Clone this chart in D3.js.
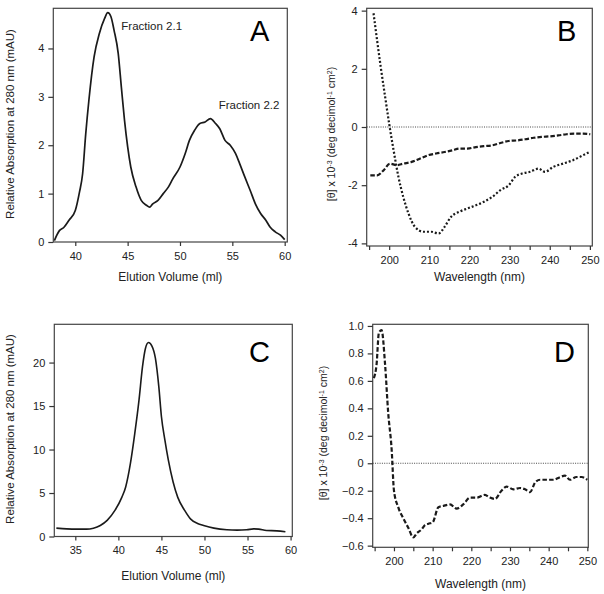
<!DOCTYPE html>
<html><head><meta charset="utf-8">
<script src="https://cdn.jsdelivr.net/npm/d3@7"></script>
<style>
body{margin:0;background:#fff;}
svg{display:block;font-family:"Liberation Sans",Arial,sans-serif;}
.axis path,.axis line{stroke:#333;stroke-width:1.2;}
.axis text{fill:#222;font-size:11px;font-family:"Liberation Sans",Arial,sans-serif;}
</style></head>
<body><svg id="c" width="604" height="594"></svg>
<script>
// Panel A: elution profile (ml, mAU)
const aVol = [38.0,38.5,38.9,39.4,40.0,40.4,40.7,41.0,41.3,41.8,42.3,42.8,43.1,43.4,43.7,44.1,44.4,44.7,45.0,45.3,45.8,46.3,46.8,47.1,47.4,47.9,48.4,48.9,49.3,50.0,50.5,50.9,51.4,51.9,52.4,52.9,53.4,53.8,54.3,54.8,55.3,55.7,56.2,56.7,57.2,57.7,58.2,58.6,59.1,59.6,60.0];
const aAbs = [0.03,0.24,0.30,0.45,0.65,1.03,1.41,2.24,2.93,3.83,4.31,4.62,4.74,4.66,4.38,3.90,3.20,2.52,1.97,1.55,1.14,0.86,0.76,0.72,0.79,0.86,1.00,1.14,1.30,1.55,1.83,2.10,2.31,2.45,2.48,2.55,2.45,2.34,2.10,2.00,1.83,1.62,1.34,1.07,0.79,0.59,0.45,0.31,0.21,0.14,0.05];
const aXTicks = [40,45,50,55,60];
const aYTicks = [0,1,2,3,4];
const aNotes = [{t:"Fraction 2.1",x:47.3,y:4.38},{t:"Fraction 2.2",x:56.6,y:2.75}];

// Panel B: CD spectra
const bWave1 = [196.1,197.0,197.9,199.0,200.0,201.1,202.3,203.5,204.8,206.4,208.5,210.5,212.3,213.8,215.4,217.5,219.5,221.6,223.6,225.7,227.7,229.8,231.4,233.1,235.1,237.2,238.8,240.9,243.3,245.8,248.3,249.9];
const bTheta1 = [3.91,2.97,2.06,1.03,0.11,-0.80,-1.71,-2.40,-2.97,-3.43,-3.60,-3.60,-3.66,-3.43,-3.09,-2.91,-2.80,-2.69,-2.57,-2.40,-2.17,-2.00,-1.71,-1.60,-1.54,-1.43,-1.54,-1.37,-1.26,-1.14,-0.97,-0.86];
const bWave2 = [195.3,197.0,198.6,200.2,201.9,203.5,205.6,207.6,209.7,211.7,213.8,215.8,217.5,219.5,221.6,223.6,225.7,227.7,229.8,231.9,233.9,236.0,238.0,240.1,242.1,244.2,246.2,248.3,250.1];
const bTheta2 = [-1.66,-1.66,-1.49,-1.26,-1.31,-1.26,-1.20,-1.09,-0.97,-0.91,-0.86,-0.80,-0.74,-0.74,-0.69,-0.66,-0.63,-0.55,-0.48,-0.46,-0.42,-0.37,-0.34,-0.32,-0.29,-0.25,-0.23,-0.23,-0.25];
const bXTicks = [195,200,205,210,215,220,225,230,235,240,245,250];
const bYTicks = [-4,-2,0,2,4];

// Panel C: elution profile
const cVol = [32.8,34.0,35.15,36.3,37.1,37.9,38.7,39.6,40.4,40.85,41.4,41.9,42.4,42.8,43.15,43.5,43.9,44.3,44.7,45.0,45.4,45.8,46.35,46.9,47.7,48.4,49.2,49.9,51.1,52.6,53.8,54.9,55.7,56.3,57.2,58.4,59.4];
const cAbs = [0.96,0.88,0.85,0.85,0.96,1.27,1.85,3.0,4.5,5.7,8.4,11.8,15.7,19.5,21.65,22.3,21.9,20.5,17.2,13.8,11.1,8.8,6.3,4.5,3.0,2.0,1.5,1.27,0.96,0.77,0.73,0.77,0.88,0.85,0.69,0.65,0.54];
const cXTicks = [35,40,45,50,55,60];
const cYTicks = [0,5,10,15,20];

// Panel D: CD spectrum
const dWave = [194.8,195.5,196.1,196.8,197.7,198.5,199.4,200.0,201.1,202.4,203.7,205.0,205.9,207.2,208.0,208.9,210.0,211.5,212.8,214.5,216.2,217.9,219.7,221.4,223.5,224.8,226.1,227.8,229.1,230.9,232.6,233.9,235.2,236.5,237.8,239.5,241.2,243.0,244.2,245.5,247.2,248.5,250.0];
const dTheta = [0.62,0.72,0.95,0.97,0.72,0.37,0.10,-0.20,-0.32,-0.40,-0.47,-0.54,-0.51,-0.48,-0.45,-0.44,-0.43,-0.32,-0.31,-0.30,-0.33,-0.30,-0.25,-0.25,-0.23,-0.25,-0.26,-0.20,-0.17,-0.19,-0.18,-0.19,-0.21,-0.14,-0.12,-0.12,-0.12,-0.10,-0.09,-0.12,-0.10,-0.10,-0.12];
const dXTicks = [195,200,205,210,215,220,225,230,235,240,245,250];
const dYTicks = [-0.6,-0.4,-0.2,0,0.2,0.4,0.6,0.8,1.0];

const svg = d3.select("#c");

function panel(o){
  const g = svg.append("g");
  const x = d3.scaleLinear().domain(o.xd).range([o.l,o.r]);
  const y = d3.scaleLinear().domain(o.yd).range([o.b,o.t]);
  g.append("rect").attr("x",o.l).attr("y",o.t).attr("width",o.r-o.l).attr("height",o.b-o.t)
    .attr("fill","none").attr("stroke","#444").attr("stroke-width",1.2);
  const xa = d3.axisBottom(x).tickValues(o.xt).tickSize(4).tickPadding(6)
    .tickFormat(v => (o.xl ? (o.xl.includes(v)? String(v):"") : String(v)));
  g.append("g").attr("class","axis").attr("transform",`translate(0,${o.b})`).call(xa)
    .call(s=>s.select(".domain").remove());
  const ya = d3.axisLeft(y).tickValues(o.yt).tickSize(5).tickPadding(4)
    .tickFormat(o.yf || (v=>String(v)));
  g.append("g").attr("class","axis").attr("transform",`translate(${o.l},0)`).call(ya)
    .call(s=>s.select(".domain").remove());
  if(o.zero){
    g.append("line").attr("x1",o.l).attr("x2",o.r).attr("y1",y(0)).attr("y2",y(0))
      .attr("stroke","#333").attr("stroke-width",0.9).attr("stroke-dasharray","1,1.3");
  }
  o.series.forEach(s=>{
    const pts = s.x.map((v,i)=>[v,s.y[i]]);
    g.append("path").attr("d", d3.line().x(d=>x(d[0])).y(d=>y(d[1])).curve(d3.curveMonotoneX)(pts))
      .attr("fill","none").attr("stroke","#1a1a1a").attr("stroke-width",s.w||1.6)
      .attr("stroke-dasharray",s.dash||null);
  });
  g.append("text").attr("x",(o.l+o.r)/2).attr("y",o.xlY).attr("text-anchor","middle")
    .attr("font-size",12).attr("fill","#222").text(o.xLabel);
  const yl = g.append("text").attr("transform",`translate(${o.ylX},${o.ylY}) rotate(-90)`)
    .attr("text-anchor","middle").attr("font-size",o.ylFs||11.5).attr("fill","#222");
  if(typeof o.yLabel === "string") yl.text(o.yLabel);
  else o.yLabel.forEach(p=>{
    const t = yl.append("tspan").text(p.t);
    if(p.sup){ t.attr("font-size",7).attr("baseline-shift","super"); }
  });
  g.append("text").attr("x",o.letX).attr("y",o.letY).attr("font-size",29).attr("fill","#000")
    .text(o.letter);
  (o.notes||[]).forEach(n=>{
    g.append("text").attr("x",x(n.x)).attr("y",y(n.y)).attr("text-anchor","middle")
      .attr("font-size",11.5).attr("fill","#222").text(n.t);
  });
}

const thetaLabel = [{t:"[θ] x 10"},{t:"-3",sup:true},{t:" (deg decimol"},{t:"-1",sup:true},{t:" cm"},{t:"2",sup:true},{t:")"}];

panel({l:53.3,r:287.3,t:8.3,b:242,xd:[37.9,60.25],yd:[0,4.83],xt:aXTicks,yt:aYTicks,
  series:[{x:aVol,y:aAbs,w:1.7}],xLabel:"Elution Volume (ml)",xlY:281,
  yLabel:"Relative Absorption at 280 nm (mAU)",ylX:14,ylY:124,letter:"A",letX:250,letY:41,notes:aNotes});

panel({l:366.7,r:592.3,t:8.3,b:246,xd:[194.4,250.6],yd:[-4.09,4.08],xt:bXTicks,xl:[200,210,220,230,240,250],yt:bYTicks,
  zero:true,
  series:[{x:bWave1,y:bTheta1,w:2.2,dash:"2,2"},{x:bWave2,y:bTheta2,w:2.2,dash:"4.5,2"}],
  xLabel:"Wavelength (nm)",xlY:281,yLabel:thetaLabel,ylFs:10.5,ylX:335,ylY:134,letter:"B",letX:557,letY:41});

panel({l:54.3,r:292.3,t:324.3,b:536.5,xd:[32.56,60.2],yd:[0,24.4],xt:cXTicks,yt:cYTicks,
  series:[{x:cVol,y:cAbs,w:1.6}],xLabel:"Elution Volume (ml)",xlY:580,
  yLabel:"Relative Absorption at 280 nm (mAU)",ylX:14,ylY:429,letter:"C",letX:249,letY:362});

panel({l:372.7,r:588.3,t:324.3,b:547.3,xd:[194.5,250.25],yd:[-0.612,1.012],xt:dXTicks,xl:[200,210,220,230,240,250],yt:dYTicks,
  yf:v=> v===0 ? "0" : d3.format(".1f")(v), zero:true,
  series:[{x:dWave,y:dTheta,w:2.2,dash:"4.5,2.2"}],
  xLabel:"Wavelength (nm)",xlY:588,yLabel:thetaLabel,ylFs:10.5,ylX:327,ylY:433,letter:"D",letX:554,letY:362});
</script></body></html>
